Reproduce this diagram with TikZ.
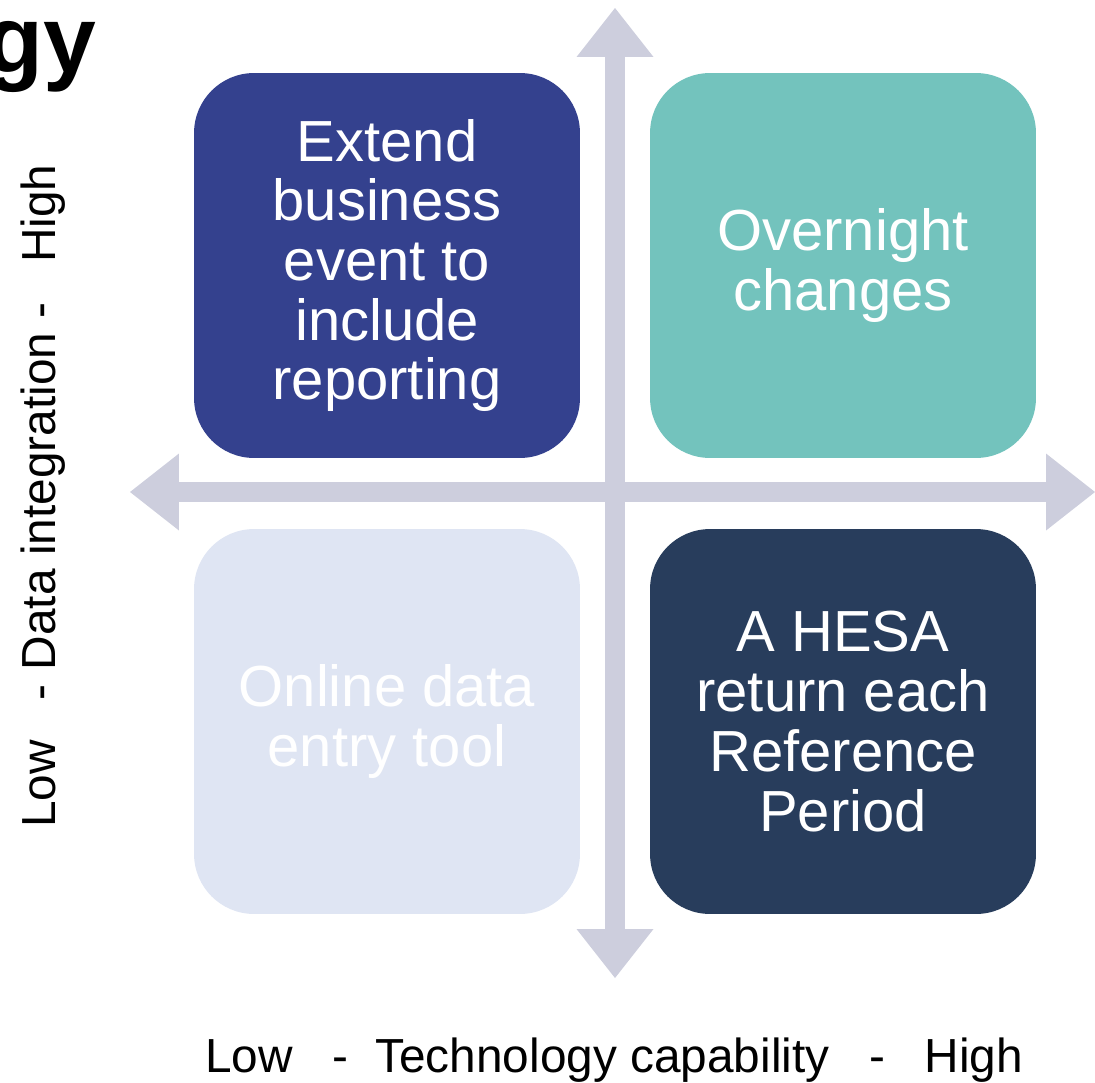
\documentclass[tikz,border=0pt]{standalone}
\usepackage{fontspec}
\setmainfont{Liberation Sans}
\usetikzlibrary{arrows.meta}
\definecolor{quadblue}{HTML}{34418E}
\definecolor{quadteal}{HTML}{73C3BD}
\definecolor{quadpale}{HTML}{DFE5F3}
\definecolor{quadnavy}{HTML}{283D5C}
\definecolor{axisgrey}{HTML}{CDCEDD}
\tikzstyle{quad} = [rectangle, rounded corners=1.2cm, minimum width=7.72cm, minimum height=7.7cm, text=white, align=center, font=\fontsize{33}{34}\selectfont]
\tikzstyle{axis} = [draw=axisgrey, line width=0.4cm, {Triangle[width=1.54cm, length=0.98cm, line width=0pt]}-{Triangle[width=1.54cm, length=0.98cm, line width=0pt]}]
\tikzstyle{axislabel} = [inner sep=0pt, font=\fontsize{27.2}{29}\selectfont]

\begin{document}
\begin{tikzpicture}[x=0.02cm, y=-0.02cm]
            \useasboundingbox (0,0) rectangle (1095,1082);
            % Title remainder
            \node (title) [anchor=base east, inner sep=0pt, font=\fontsize{54}{56}\selectfont\bfseries] at (97,72) {gy};

            % Axes
            \coordinate (top) at (615,8);
            \coordinate (bottom) at (615,978);
            \coordinate (left) at (130,492);
            \coordinate (right) at (1095,492);
            \path [axis] (left) -- (right);
            \path [axis] (bottom) -- (top);

            % Draw nodes
            \node (extend) [quad, fill=quadblue] at (387,265.5) {Extend\\business\\event to\\include\\reporting};
            \node (overnight) [quad, fill=quadteal] at (843,265.5) {Overnight\\changes};
            \node (online) [quad, fill=quadpale] at (387,721.5) {Online data\\entry tool};
            \node (hesa) [quad, fill=quadnavy] at (843,721.5) {A HESA\\return each\\Reference\\Period};

            % Axis labels
            \node (techlabel) [axislabel, anchor=base west] at (205,1072) {Low\hspace{0.83em}-\hspace{0.56em}Technology capability\hspace{0.83em}-\hspace{0.83em}High};
            \node (datalabel) [axislabel, anchor=base west, rotate=90] at (55,828) {Low\hspace{0.83em}-\hspace{0.3em}Data integration\hspace{0.3em}-\hspace{0.83em}High};
        \end{tikzpicture}
\end{document}
